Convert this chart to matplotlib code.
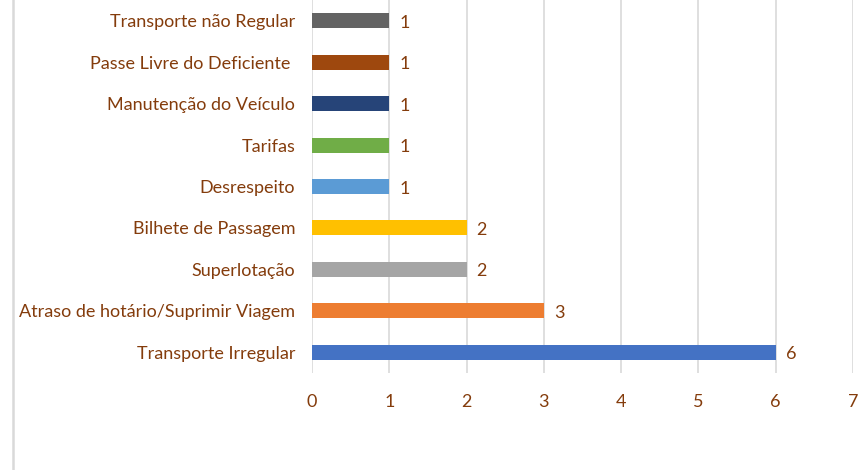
import matplotlib
matplotlib.use("Agg")
import matplotlib.pyplot as plt
from matplotlib.lines import Line2D

categories = ["Transporte Irregular", "Atraso de hotário/Suprimir Viagem", "Superlotação",
              "Bilhete de Passagem", "Desrespeito", "Tarifas", "Manutenção do Veículo",
              "Passe Livre do Deficiente ", "Transporte não Regular"]
values = [6, 3, 2, 2, 1, 1, 1, 1, 1]
colors = ["#4472C4", "#ED7D31", "#A5A5A5", "#FFC000", "#5B9BD5", "#70AD47",
          "#264478", "#9E480E", "#636363"]
xticks = [0, 1, 2, 3, 4, 5, 6, 7]

txt = "#843C0C"
fs = 13
plt.rcParams['font.family'] = ['Lato', 'DejaVu Sans']

fig = plt.figure(figsize=(8.68, 4.70), dpi=100)
ax = fig.add_axes([312/868, 1-373/470, (853-312)/868, 373/470])
y = list(range(len(categories)))
ax.barh(y, values, height=0.36, color=colors, zorder=3)
for yi, v in zip(y, values):
    ax.text(v + 0.13, yi - 0.05, str(v), va='center', ha='left', fontsize=fs, color=txt)
ax.set_xlim(0, 7)
ax.set_ylim(-0.5, len(categories) - 0.5)
ax.set_xticks(xticks)
ax.set_xticklabels([str(t) for t in xticks])
ax.set_yticks(y)
ax.set_yticklabels(categories)
ax.tick_params(axis='both', length=0, labelsize=fs, labelcolor=txt)
ax.tick_params(axis='x', pad=15)
ax.tick_params(axis='y', pad=12)
ax.grid(axis='x', color='#D9D9D9', linewidth=1.2, zorder=0)
for s in ax.spines.values():
    s.set_visible(False)
fig.add_artist(Line2D([13/868, 13/868], [0, 1], color='#D9D9D9', linewidth=1.8, transform=fig.transFigure))
fig.savefig("out.png", dpi=100)
